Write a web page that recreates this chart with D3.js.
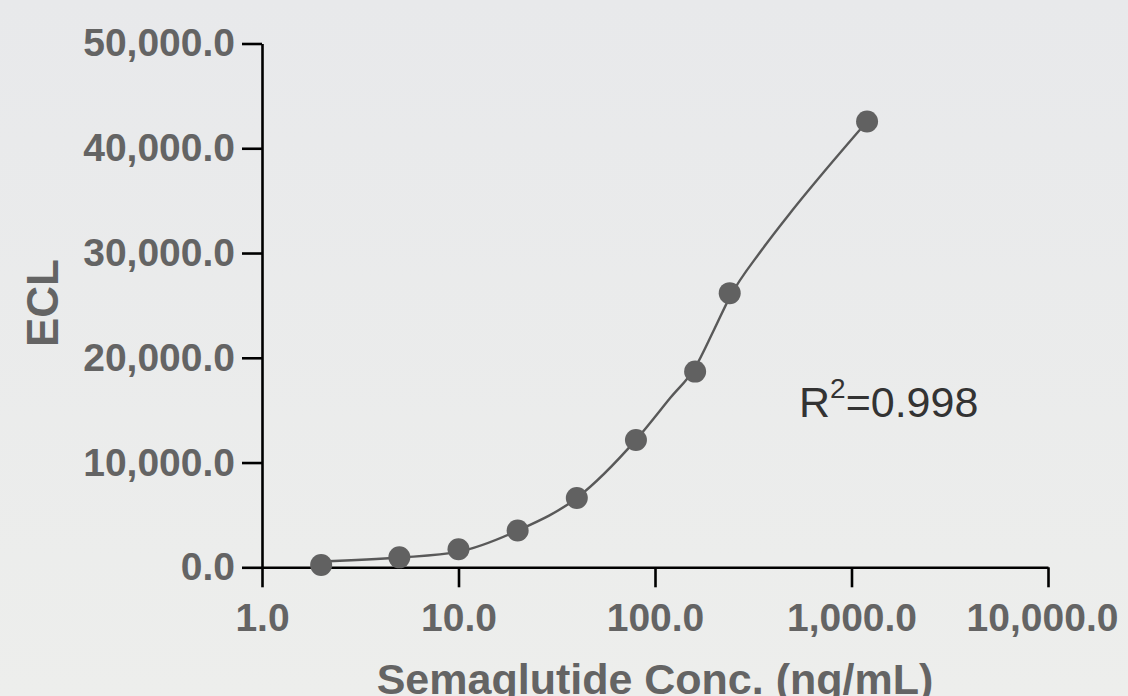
<!DOCTYPE html>
<html>
<head>
<meta charset="utf-8">
<title>Semaglutide standard curve</title>
<style>
  html, body { margin: 0; padding: 0; }
  body { width: 1128px; height: 696px; overflow: hidden; }
  text { font-family: "Liberation Sans", Arial, sans-serif; }
</style>
</head>
<body>
<svg id="chart" width="1128" height="696"></svg>
<script src="https://cdn.jsdelivr.net/npm/d3@7"></script>
<script>
// measured standards (ng/mL) and their ECL signal
const conc = [2, 5, 10, 20, 40, 80, 160, 240, 1200]
const ecl = [220, 950, 1720, 3520, 6620, 12160, 18680, 26170, 42560]

// fitted curve at a few concentrations
const fitConc = [2, 5, 10, 20, 40, 80, 120, 160, 200, 240, 350, 500, 800, 1200]
const fitEcl = [560, 930, 1490, 3510, 6620, 12160, 16200, 19070, 22700, 25770, 30310, 34080, 38710, 42560]

const xTicks = [1, 10, 100, 1000, 10000]
const yTicks = [0, 10000, 20000, 30000, 40000, 50000]
const r2 = "0.998"

const svg = d3.select("#chart")

// soft grey background, a touch lighter at the bottom
const grad = svg.append("defs").append("linearGradient")
  .attr("id", "bg").attr("x1", 0).attr("y1", 0).attr("x2", 0).attr("y2", 1)
grad.append("stop").attr("offset", "0%").attr("stop-color", "#e8e9eb")
grad.append("stop").attr("offset", "100%").attr("stop-color", "#edeeec")
svg.append("rect").attr("width", 1128).attr("height", 696).attr("fill", "url(#bg)")

const x = d3.scaleLog().domain([1, 10000]).range([262, 1048])
const y = d3.scaleLinear().domain([0, 50000]).range([567.3, 43.5])
const fmt = d3.format(",.1f")

// axes
const xAxis = svg.append("g")
  .attr("transform", "translate(0,567.3)")
  .call(d3.axisBottom(x).tickValues(xTicks).tickFormat(fmt)
    .tickSize(20).tickSizeOuter(0).tickPadding(16))
const yAxis = svg.append("g")
  .attr("transform", "translate(262,0)")
  .call(d3.axisLeft(y).tickValues(yTicks).tickFormat(fmt)
    .tickSize(20).tickSizeOuter(0).tickPadding(7))

for (const g of [xAxis, yAxis]) {
  g.selectAll("path, line").attr("stroke", "#000").attr("stroke-width", 2.6)
  g.selectAll("text")
    .attr("fill", "#646464")
    .attr("font-size", 39)
    .attr("font-weight", "bold")
    .attr("font-family", "'Liberation Sans', Arial, sans-serif")
}
// last x label sits a little left of its tick, as in the original
xAxis.selectAll(".tick text").filter(d => d === 10000).attr("dx", -6)

// axis titles
svg.append("text")
  .attr("x", 655).attr("y", 694)
  .attr("text-anchor", "middle")
  .attr("font-size", 43).attr("font-weight", "bold")
  .attr("fill", "#646464")
  .text("Semaglutide Conc. (ng/mL)")

svg.append("text")
  .attr("transform", "translate(58,303) rotate(-90)")
  .attr("text-anchor", "middle")
  .attr("font-size", 44).attr("font-weight", "bold")
  .attr("fill", "#646464")
  .text("ECL")

// fitted curve
const fit = fitConc.map((c, i) => ({ c: c, v: fitEcl[i] }))
const line = d3.line()
  .x(d => x(d.c))
  .y(d => y(d.v))
  .curve(d3.curveMonotoneX)

svg.append("path")
  .datum(fit)
  .attr("d", line)
  .attr("fill", "none")
  .attr("stroke", "#595959")
  .attr("stroke-width", 2.4)

// standards
const pts = conc.map((c, i) => ({ c: c, v: ecl[i] }))
svg.selectAll("circle")
  .data(pts)
  .enter()
  .append("circle")
  .attr("cx", d => x(d.c))
  .attr("cy", d => y(d.v))
  .attr("r", 11)
  .attr("fill", "#616161")

// goodness of fit
const label = svg.append("text")
  .attr("x", 799).attr("y", 417)
  .attr("font-size", 43)
  .attr("fill", "#333333")
label.append("tspan").text("R")
label.append("tspan").attr("dy", -19).attr("font-size", 28).text("2")
label.append("tspan").attr("dy", 19).text("=" + r2)
</script>
</body>
</html>
